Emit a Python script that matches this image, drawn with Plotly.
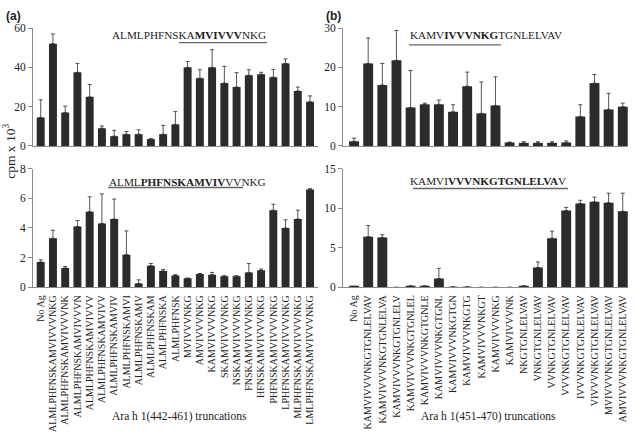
import plotly.graph_objects as go

# ---- data ----
labels_a = ["No Ag", "ALMLPHFNSKAMVIVVVNKG", "ALMLPHFNSKAMVIVVVNK", "ALMLPHFNSKAMVIVVVN",
            "ALMLPHFNSKAMVIVVV", "ALMLPHFNSKAMVIVV", "ALMLPHFNSKAMVIV", "ALMLPHFNSKAMVI",
            "ALMLPHFNSKAMV", "ALMLPHFNSKAM", "ALMLPHFNSKA", "ALMLPHFNSK",
            "MVIVVVNKG", "AMVIVVVNKG", "KAMVIVVVNKG", "SKAMVIVVVNKG", "NSKAMVIVVVNKG",
            "FNSKAMVIVVVNKG", "HFNSKAMVIVVVNKG", "PHFNSKAMVIVVVNKG", "LPHFNSKAMVIVVVNKG",
            "MLPHFNSKAMVIVVVNKG", "LMLPHFNSKAMVIVVVNKG"]
top_a = [14.5, 52, 17, 37.5, 25, 9, 5, 6, 6, 3.5, 6, 11, 40, 34.5, 40, 32, 30, 36, 36.5, 35, 42, 28, 22.5]
top_a_err = [9, 5, 3.3, 4.5, 6.3, 1.2, 3, 1.4, 2.2, 0.2, 4.5, 6.5, 3, 4.3, 9, 8.5, 7.3, 2.8, 1, 4, 2.3, 2, 3]
bot_a = [1.7, 3.3, 1.3, 4.1, 5.1, 4.3, 4.6, 2.2, 0.25, 1.45, 1.1, 0.8, 0.6, 0.9, 0.85, 0.75, 0.75, 1.0, 1.15, 5.2, 4.0, 4.6, 6.6]
bot_a_err = [0.15, 0.55, 0.1, 0.4, 1.0, 2.0, 1.35, 1.6, 0.25, 0.15, 0.1, 0.05, 0.02, 0.03, 0.15, 0.03, 0.03, 0.6, 0.08, 0.4, 0.55, 0.6, 0.05]

labels_b = ["No Ag", "KAMVIVVVNKGTGNLELVAV", "KAMVIVVVNKGTGNLELVA", "KAMVIVVVNKGTGNLELV",
            "KAMVIVVVNKGTGNLEL", "KAMVIVVVNKGTGNLE", "KAMVIVVVNKGTGNL", "KAMVIVVVNKGTGN",
            "KAMVIVVVNKGTG", "KAMVIVVVNKGT", "KAMVIVVVNKG", "KAMVIVVVNK",
            "NKGTGNLELVAV", "VNKGTGNLELVAV", "VVNKGTGNLELVAV", "VVVNKGTGNLELVAV",
            "IVVVNKGTGNLELVAV", "VIVVVNKGTGNLELVAV", "MVIVVVNKGTGNLELVAV", "AMVIVVVNKGTGNLELVAV"]
top_b = [1.2, 21, 15.5, 21.8, 9.8, 10.6, 10.6, 8.7, 15.2, 8.3, 10.3, 0.9, 0.8, 0.8, 0.8, 0.9, 7.5, 16, 9.3, 10]
top_b_err = [0.8, 6.5, 5.5, 7.6, 9.4, 0.3, 1.1, 1.8, 3.6, 8, 7.3, 0.1, 0.3, 0.3, 0.3, 0.4, 3, 2.2, 4.1, 0.9]
bot_b = [0.1, 6.4, 6.3, 0, 0.15, 0.15, 1.1, 0.05, 0.05, 0, 0, 0, 0.15, 2.5, 6.2, 9.7, 10.6, 10.8, 10.7, 9.6]
bot_b_err = [0.02, 1.4, 0.35, 0, 0.02, 0.02, 1.3, 0, 0, 0, 0, 0, 0.02, 0.7, 0.9, 0.4, 0.4, 0.6, 1.2, 2.3]

BAR = "#2b2b2b"
AX = "#8a8a8a"
SERIF = "Liberation Serif, Times New Roman, serif"

fig = go.Figure()

def add(x, y, err, xa, ya, width):
    fig.add_trace(go.Bar(
        x=x, y=y, xaxis=xa, yaxis=ya, width=width,
        marker=dict(color=BAR, line=dict(width=0)),
        error_y=dict(type="data", array=err, arrayminus=[0] * len(err), symmetric=False,
                     color=BAR, thickness=0.8, width=2),
        showlegend=False, hoverinfo="x+y"))

add(labels_a, top_a, top_a_err, "x", "y", 0.65)
add(labels_a, bot_a, bot_a_err, "x2", "y2", 0.65)
add(labels_b, top_b, top_b_err, "x3", "y3", 0.7)
add(labels_b, bot_b, bot_b_err, "x4", "y4", 0.7)

dom_a = [33 / 635, 318 / 635]
dom_b = [343 / 635, 628 / 635]
dom_top = [1 - 144 / 432, 1 - 22.7 / 432]
dom_bot = [1 - 289.3 / 432, 1 - 167.3 / 432]

def xax(domain, anchor, rng, show):
    return dict(domain=domain, anchor=anchor, range=rng, type="category",
                showline=True, linecolor=AX, linewidth=1, ticks="",
                showticklabels=show, tickangle=-90, showgrid=False, zeroline=False,
                tickfont=dict(family=SERIF, size=10, color="#222"), ticklabelstandoff=3)

def yax(domain, anchor, rng, dt):
    return dict(domain=domain, anchor=anchor, range=rng, dtick=dt,
                showline=True, linecolor=AX, linewidth=1, ticks="outside", ticklen=4,
                tickcolor=AX, showgrid=False, zeroline=False,
                tickfont=dict(family=SERIF, size=11.5, color="#222"))

fig.update_layout(
    width=635, height=432, margin=dict(l=0, r=0, t=0, b=0),
    paper_bgcolor="white", plot_bgcolor="white", bargap=0.35,
    xaxis=xax(dom_a, "y", [-0.63, 22.65], False),
    yaxis=yax(dom_top, "x", [0, 60], 20),
    xaxis2=xax(dom_a, "y2", [-0.63, 22.65], True),
    yaxis2=yax(dom_bot, "x2", [0, 8], 2),
    xaxis3=xax(dom_b, "y3", [-0.78, 19.37], False),
    yaxis3=yax(dom_top, "x3", [0, 30], 10),
    xaxis4=xax(dom_b, "y4", [-0.78, 19.37], True),
    yaxis4=yax(dom_bot, "x4", [0, 15], 5),
)

def px(x):
    return x / 635

def py(y):
    return 1 - y / 432

ann = []
def text(x, y, t, size=11, family=SERIF, xanchor="left", angle=0):
    ann.append(dict(x=px(x), y=py(y), xref="paper", yref="paper", text=t, showarrow=False,
                    xanchor=xanchor, yanchor="middle", textangle=angle,
                    font=dict(family=family, size=size, color="#222")))

text(4, 10, "<b>(a)</b>", size=12, family="Liberation Sans, Arial, sans-serif")
text(324, 10, "<b>(b)</b>", size=12, family="Liberation Sans, Arial, sans-serif")
text(10, 150, "cpm x 10<sup>3</sup>", size=13.5, xanchor="center", angle=-90)
text(179, 422, "Ara h 1(442-461) truncations", size=11.5, xanchor="center")
text(488, 422, "Ara h 1(451-470) truncations", size=11.5, xanchor="center")

text(110, 30, "ALMLPHFNSKA<b>MVIVVV</b>NKG", size=11.2)
text(107, 181, "ALML<b>PHFNSKAMVIV</b>VVNKG", size=11.2)
text(408, 30, "KAMV<b>IVVVNKG</b>TGNLELVAV", size=11.2)
text(408, 180, "KAMVI<b>VVVNKGTGNLELVA</b>V", size=11.2)
fig.update_layout(annotations=ann)

shapes = []
def uline(x0, x1, y):
    shapes.append(dict(type="line", xref="paper", yref="paper", x0=px(x0), x1=px(x1),
                       y0=py(y), y1=py(y), line=dict(color="#666", width=1.3)))

uline(179, 267, 37.7)
uline(108, 243, 186.7)
uline(409, 501, 40)
uline(413, 568, 187.7)
fig.update_layout(shapes=shapes)

fig.write_html("out.html")
